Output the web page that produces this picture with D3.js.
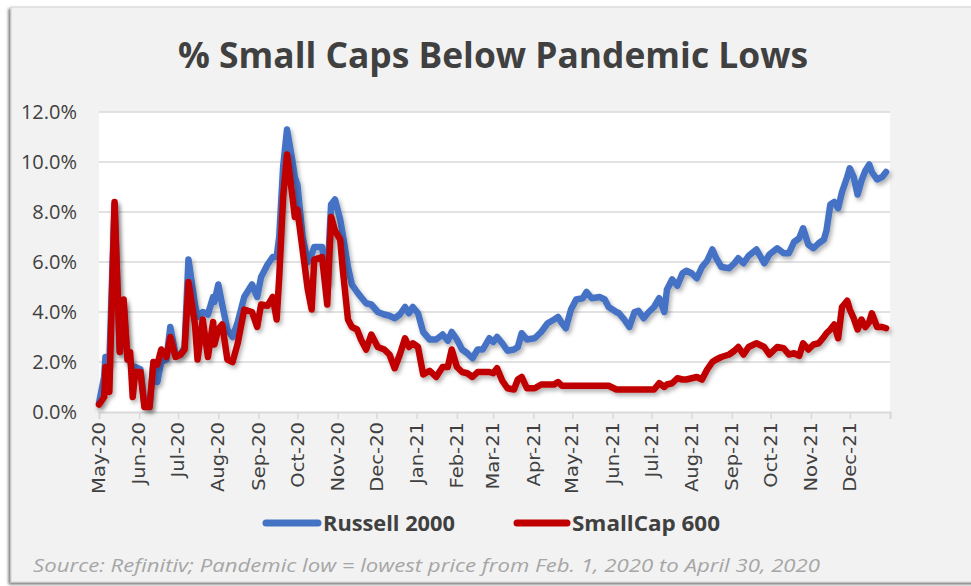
<!DOCTYPE html>
<html lang="en">
<head>
    <meta charset="UTF-8">
    <title>% Small Caps Below Pandemic Lows</title>
    <script src="https://d3js.org/d3.v7.min.js"></script>
    <style>
        body { margin: 0; background: #fff; }
        svg { display: block; }
        .grid line { stroke: #d9d9d9; stroke-width: 1.5; }
        .ylabel { font-family: "Open Sans", sans-serif; font-size: 20px; fill: #404040; }
        .xlabel { font-family: "DejaVu Sans", sans-serif; font-size: 17px; fill: #404040; }
    </style>
</head>
<body>
<svg id="chart" width="971" height="586"></svg>
<script>
    // values (percent)
    const dates = ["2020-05-01","2020-05-05","2020-05-06","2020-05-09","2020-05-13","2020-05-17","2020-05-20","2020-05-23","2020-05-25","2020-05-27","2020-05-29","2020-06-02","2020-06-05","2020-06-09","2020-06-12","2020-06-15","2020-06-18","2020-06-22","2020-06-25","2020-06-29","2020-07-03","2020-07-06","2020-07-09","2020-07-14","2020-07-16","2020-07-20","2020-07-24","2020-07-28","2020-07-29","2020-08-01","2020-08-04","2020-08-08","2020-08-12","2020-08-16","2020-08-21","2020-08-27","2020-08-31","2020-09-03","2020-09-08","2020-09-12","2020-09-15","2020-09-17","2020-09-20","2020-09-23","2020-09-27","2020-09-29","2020-10-01","2020-10-05","2020-10-09","2020-10-12","2020-10-14","2020-10-20","2020-10-24","2020-10-27","2020-10-30","2020-11-03","2020-11-05","2020-11-09","2020-11-12","2020-11-16","2020-11-19","2020-11-23","2020-11-27","2020-12-02","2020-12-07","2020-12-11","2020-12-15","2020-12-19","2020-12-23","2020-12-26","2020-12-29","2021-01-02","2021-01-06","2021-01-11","2021-01-16","2021-01-21","2021-01-25","2021-01-28","2021-02-01","2021-02-05","2021-02-09","2021-02-13","2021-02-17","2021-02-21","2021-02-26","2021-03-01","2021-03-04","2021-03-08","2021-03-12","2021-03-17","2021-03-20","2021-03-23","2021-03-27","2021-04-02","2021-04-07","2021-04-12","2021-04-17","2021-04-20","2021-04-23","2021-04-26","2021-04-30","2021-05-04","2021-05-09","2021-05-12","2021-05-16","2021-05-22","2021-05-26","2021-05-29","2021-06-04","2021-06-06","2021-06-10","2021-06-14","2021-06-18","2021-06-21","2021-06-25","2021-06-29","2021-07-03","2021-07-07","2021-07-11","2021-07-13","2021-07-17","2021-07-21","2021-07-25","2021-07-28","2021-08-01","2021-08-05","2021-08-09","2021-08-13","2021-08-17","2021-08-20","2021-08-24","2021-08-30","2021-09-03","2021-09-06","2021-09-10","2021-09-14","2021-09-20","2021-09-26","2021-09-30","2021-10-06","2021-10-11","2021-10-15","2021-10-19","2021-10-23","2021-10-26","2021-10-30","2021-11-03","2021-11-07","2021-11-11","2021-11-13","2021-11-16","2021-11-19","2021-11-22","2021-11-25","2021-11-29","2021-12-01","2021-12-04","2021-12-07","2021-12-10","2021-12-13","2021-12-16","2021-12-18","2021-12-22","2021-12-26","2021-12-29"];

    const russell2000 = [0.35,1.4,2.2,2.0,8.3,2.4,4.3,2.1,2.1,1.6,1.8,1.7,0.3,0.2,2.0,1.2,2.0,2.1,3.4,2.3,
        2.3,2.6,6.1,4.3,3.8,4.0,3.9,4.6,4.4,5.1,
        4.3,3.3,3.0,3.6,4.6,5.1,4.6,5.4,5.9,6.2,
        6.2,7.0,9.8,11.3,10.1,9.4,9.1,7.0,6.0,6.3,
        6.6,6.6,5.2,8.3,8.5,7.7,7.1,5.8,5.1,4.8,
        4.6,4.35,4.3,4.0,3.9,3.85,3.75,3.9,4.2,3.95,
        4.2,3.95,3.2,2.9,2.9,3.1,2.85,3.2,2.9,2.5,
        2.35,2.15,2.5,2.5,2.95,2.8,3.0,2.75,2.45,2.5,
        2.6,3.15,2.9,2.95,3.2,3.55,3.7,3.8,3.55,3.35,
        4.1,4.5,4.55,4.8,4.55,4.6,4.5,4.2,4.0,3.95,
        3.7,3.4,4.0,4.05,3.75,4.0,4.2,4.55,4.0,4.9,
        5.3,5.05,5.55,5.65,5.55,5.35,5.8,6.05,6.5,6.15,
        5.8,5.75,5.95,6.15,5.95,6.25,6.5,5.95,6.3,6.55,
        6.35,6.35,6.8,6.95,7.35,6.7,6.55,6.75,6.9,7.25,
        8.3,8.4,8.15,8.8,9.4,9.75,9.4,8.7,9.25,9.65,
        9.9,9.6,9.3,9.4,9.6];

    const smallCap600 = [0.3,0.6,1.8,0.8,8.4,2.4,4.5,2.1,2.4,0.6,1.6,1.6,0.2,0.2,2.0,1.9,2.5,2.2,3.0,2.2,
        2.3,2.5,5.2,3.5,2.1,3.7,2.2,3.6,2.7,3.3,
        3.5,2.1,2.0,2.75,4.1,4.0,3.4,4.3,4.25,4.6,
        3.7,5.4,8.6,10.3,8.7,7.8,8.1,6.5,4.9,4.1,
        6.1,6.2,4.3,7.8,7.25,6.9,5.7,3.7,3.4,3.3,
        2.9,2.5,3.1,2.6,2.5,2.3,1.75,2.3,2.95,2.6,
        2.75,2.6,1.5,1.65,1.4,1.8,1.8,2.5,1.8,1.6,
        1.55,1.4,1.6,1.6,1.6,1.55,1.75,1.25,0.95,0.9,
        1.3,1.4,0.95,0.95,1.1,1.1,1.1,1.2,1.05,1.05,
        1.05,1.05,1.05,1.05,1.05,1.05,1.05,1.05,0.9,0.9,
        0.9,0.9,0.9,0.9,0.9,0.9,0.9,1.15,1.0,1.1,
        1.15,1.35,1.3,1.3,1.35,1.4,1.3,1.7,2.0,2.1,
        2.2,2.3,2.45,2.6,2.3,2.6,2.75,2.6,2.3,2.6,
        2.55,2.3,2.35,2.25,2.75,2.5,2.7,2.75,3.0,3.15,
        3.3,3.5,2.95,4.2,4.45,4.1,3.75,3.3,3.7,3.4,
        3.6,3.95,3.4,3.4,3.35];

    const yTicks = [0, 2, 4, 6, 8, 10, 12];
    const seriesNames = ["Russell 2000", "SmallCap 600"];
    const seriesColors = ["#4472C4", "#C00000"];

    const parse = d3.timeParse("%Y-%m-%d");
    const xDates = dates.map(parse);

    const svg = d3.select("#chart");
    const defs = svg.append("defs");

    // frame shadow
    defs.append("filter").attr("id", "frameShadow")
        .attr("x", "-5%").attr("y", "-5%").attr("width", "110%").attr("height", "110%")
        .append("feDropShadow")
        .attr("dx", -2).attr("dy", 2).attr("stdDeviation", 1.5)
        .attr("flood-color", "#000").attr("flood-opacity", 0.55);

    // line shadow
    defs.append("filter").attr("id", "lineShadow")
        .attr("x", "-5%").attr("y", "-5%").attr("width", "110%").attr("height", "115%")
        .append("feDropShadow")
        .attr("dx", 2).attr("dy", 3).attr("stdDeviation", 2)
        .attr("flood-color", "#000").attr("flood-opacity", 0.3);

    svg.append("rect")
        .attr("x", 11).attr("y", 7).attr("width", 990).attr("height", 575)
        .attr("fill", "#f2f2f2").attr("stroke", "#d0d0d0").attr("stroke-width", 1)
        .attr("filter", "url(#frameShadow)");

    const plotLeft = 99, plotRight = 890, plotTop = 112, plotBottom = 412;

    const x = d3.scaleTime()
        .domain([new Date(2020, 4, 1), new Date(2022, 0, 1)])
        .range([plotLeft, plotRight]);
    const y = d3.scaleLinear().domain([0, 12]).range([plotBottom, plotTop]);

    // plot area
    svg.append("rect")
        .attr("x", plotLeft).attr("y", plotTop)
        .attr("width", plotRight - plotLeft).attr("height", plotBottom - plotTop)
        .attr("fill", "#fff");

    // gridlines
    svg.append("g").attr("class", "grid")
        .selectAll("line")
        .data(yTicks.filter(d => d > 0))
        .join("line")
        .attr("x1", plotLeft).attr("x2", plotRight)
        .attr("y1", d => y(d)).attr("y2", d => y(d));

    // y labels
    svg.append("g")
        .selectAll("text")
        .data(yTicks)
        .join("text")
        .attr("class", "ylabel")
        .attr("x", 77)
        .attr("y", d => y(d))
        .attr("dy", "0.36em")
        .attr("text-anchor", "end")
        .text(d => d.toFixed(1) + "%");

    // x axis
    const xAxis = d3.axisBottom(x)
        .ticks(d3.timeMonth.every(1))
        .tickSize(7)
        .tickFormat("");
    const gx = svg.append("g")
        .attr("transform", `translate(0,${plotBottom})`)
        .call(xAxis);
    gx.select(".domain").attr("stroke", "#d9d9d9").attr("stroke-width", 2);
    gx.selectAll(".tick line").attr("stroke", "#d9d9d9").attr("stroke-width", 1.5);

    const fmt = d3.timeFormat("%b-%y");
    svg.append("g")
        .selectAll("text")
        .data(x.ticks(d3.timeMonth.every(1)).filter(d => d < new Date(2022, 0, 1)))
        .join("text")
        .attr("class", "xlabel")
        .attr("transform", d => `translate(${x(d)},${plotBottom + 10}) rotate(-90) scale(1.15,1)`)
        .attr("dy", "0.36em")
        .attr("text-anchor", "end")
        .text(d => fmt(d));

    // lines
    const seriesValues = [russell2000, smallCap600];
    const line = d3.line()
        .x((d, i) => x(xDates[i]))
        .y(d => y(d));

    svg.append("g")
        .selectAll("path")
        .data(seriesValues)
        .join("path")
        .attr("d", d => line(d))
        .attr("fill", "none")
        .attr("stroke", (d, i) => seriesColors[i])
        .attr("stroke-width", 6.5)
        .attr("stroke-linejoin", "round")
        .attr("stroke-linecap", "round")
        .attr("filter", "url(#lineShadow)");

    // title
    svg.append("text")
        .attr("x", 493).attr("y", 68)
        .attr("text-anchor", "middle")
        .attr("font-family", "'Open Sans', sans-serif")
        .attr("font-weight", "bold")
        .attr("font-size", 36)
        .attr("fill", "#404040")
        .attr("textLength", 630)
        .attr("lengthAdjust", "spacingAndGlyphs")
        .text("% Small Caps Below Pandemic Lows");

    // legend
    const legendItems = [
        { x1: 266, x2: 318, tx: 323, tw: 132 },
        { x1: 517, x2: 567, tx: 572, tw: 148 }
    ];
    const lg = svg.append("g");
    legendItems.forEach((d, i) => {
        lg.append("line")
            .attr("x1", d.x1).attr("x2", d.x2)
            .attr("y1", 523).attr("y2", 523)
            .attr("stroke", seriesColors[i])
            .attr("stroke-width", 7)
            .attr("stroke-linecap", "round");
        lg.append("text")
            .attr("x", d.tx).attr("y", 531)
            .attr("font-family", "'Open Sans', sans-serif")
            .attr("font-weight", "bold")
            .attr("font-size", 21)
            .attr("fill", "#404040")
            .attr("textLength", d.tw)
            .attr("lengthAdjust", "spacingAndGlyphs")
            .text(seriesNames[i]);
    });

    // source note
    svg.append("text")
        .attr("x", 33).attr("y", 572)
        .attr("font-family", "'Open Sans', sans-serif")
        .attr("font-style", "italic")
        .attr("font-size", 19)
        .attr("fill", "#a6a6a6")
        .attr("textLength", 787)
        .attr("lengthAdjust", "spacingAndGlyphs")
        .text("Source: Refinitiv; Pandemic low = lowest price from Feb. 1, 2020 to April 30, 2020");
</script>
</body>
</html>
